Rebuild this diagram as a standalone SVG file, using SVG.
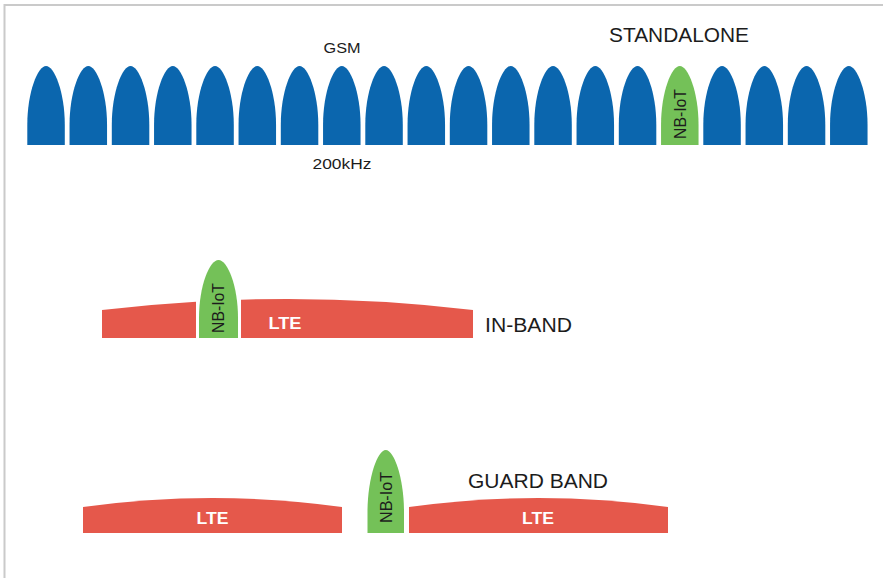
<svg xmlns="http://www.w3.org/2000/svg" width="883" height="578" viewBox="0 0 883 578">
<style>
.gsm{fill:#0b66ae}
.nb{fill:#74c158}
.lte{fill:#e5584b}
.lbl{font-family:"Liberation Sans",Arial,sans-serif;fill:#1c1c1c}
.nbt{font-family:"Liberation Sans",Arial,sans-serif;fill:#1c1c1c;font-size:16px;text-anchor:middle}
.ltet{font-family:"Liberation Sans",Arial,sans-serif;fill:#ffffff;font-size:17px;font-weight:bold;text-anchor:middle}
</style>
<defs>
<path id="lobe" d="M0 79 L0 59 C0 26 10.5 0 18.75 0 C27 0 37.5 26 37.5 59 L37.5 79 Z"/>
</defs>
<rect x="0" y="0" width="883" height="578" fill="#ffffff"/>
<path d="M4.5 578 L4.5 5 L883 5" fill="none" stroke="#cacaca" stroke-width="2"/>
<g id="connectors"></g>

<g id="standalone">
<g id="gsm-carriers" class="gsm">
<use href="#lobe" x="27.3" y="66"/>
<use href="#lobe" x="69.55" y="66"/>
<use href="#lobe" x="111.8" y="66"/>
<use href="#lobe" x="154.05" y="66"/>
<use href="#lobe" x="196.3" y="66"/>
<use href="#lobe" x="238.55" y="66"/>
<use href="#lobe" x="280.8" y="66"/>
<use href="#lobe" x="323.05" y="66"/>
<use href="#lobe" x="365.3" y="66"/>
<use href="#lobe" x="407.55" y="66"/>
<use href="#lobe" x="449.8" y="66"/>
<use href="#lobe" x="492.05" y="66"/>
<use href="#lobe" x="534.3" y="66"/>
<use href="#lobe" x="576.55" y="66"/>
<use href="#lobe" x="618.8" y="66"/>
<use href="#lobe" x="703.3" y="66"/>
<use href="#lobe" x="745.55" y="66"/>
<use href="#lobe" x="787.8" y="66"/>
<use href="#lobe" x="830.05" y="66"/>
</g>
<g id="nb-standalone">
<use href="#lobe" x="661.05" y="66" class="nb"/>
<text class="nbt" transform="translate(685.8 114) rotate(-90)" x="0" y="0" textLength="50" lengthAdjust="spacingAndGlyphs">NB-IoT</text>
</g>
<text class="lbl" x="342" y="53" font-size="14" text-anchor="middle" textLength="37" lengthAdjust="spacingAndGlyphs">GSM</text>
<text class="lbl" x="342" y="169" font-size="14" text-anchor="middle" textLength="59" lengthAdjust="spacingAndGlyphs">200kHz</text>
<text class="lbl" x="609" y="41.5" font-size="20" textLength="140" lengthAdjust="spacingAndGlyphs">STANDALONE</text>
</g>

<g id="in-band">
<g id="lte-inband" class="lte">
<path d="M102 338 L102 310 Q149 304.4 196 301.7 L196 338 Z"/>
<path d="M241 338 L241 299.7 Q357 296.24 473 310 L473 338 Z"/>
</g>
<g id="nb-inband">
<path class="nb" d="M199 338 L199 318 C199 286 209.5 260 218.5 260 C227.5 260 238 286 238 318 L238 338 Z"/>
<text class="nbt" transform="translate(224.3 308) rotate(-90)" x="0" y="0" textLength="50" lengthAdjust="spacingAndGlyphs">NB-IoT</text>
</g>
<text class="ltet" x="285" y="328.5" textLength="33" lengthAdjust="spacingAndGlyphs">LTE</text>
<text class="lbl" x="485" y="332" font-size="20" textLength="87" lengthAdjust="spacingAndGlyphs">IN-BAND</text>
</g>

<g id="guard-band">
<g id="lte-guard" class="lte">
<path d="M83 533 L83 507 Q212.5 489 342 507 L342 533 Z"/>
<path d="M409 533 L409 507 Q538.5 489 668 507 L668 533 Z"/>
</g>
<g id="nb-guard">
<path class="nb" d="M367.5 533 L367.5 512 C367.5 478 377.5 450 385.75 450 C394 450 404 478 404 512 L404 533 Z"/>
<text class="nbt" transform="translate(391.8 497.5) rotate(-90)" x="0" y="0" textLength="51" lengthAdjust="spacingAndGlyphs">NB-IoT</text>
</g>
<text class="ltet" x="212.5" y="524" textLength="32" lengthAdjust="spacingAndGlyphs">LTE</text>
<text class="ltet" x="538" y="523.5" textLength="32" lengthAdjust="spacingAndGlyphs">LTE</text>
<text class="lbl" x="468" y="488" font-size="20" textLength="140" lengthAdjust="spacingAndGlyphs">GUARD BAND</text>
</g>
</svg>
